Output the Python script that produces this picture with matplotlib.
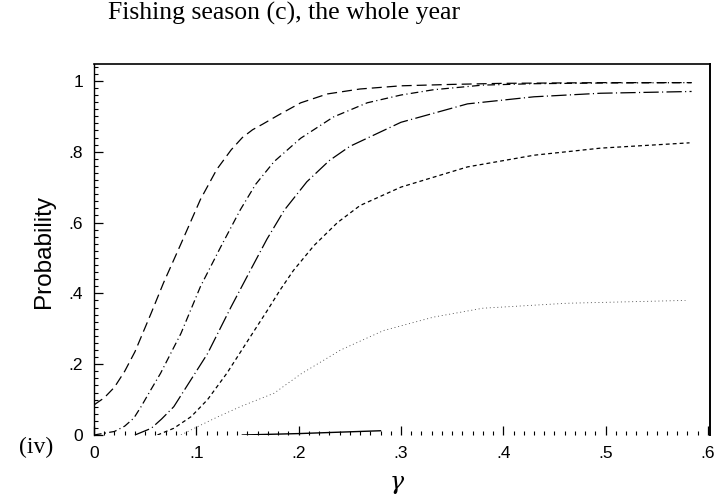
import matplotlib
matplotlib.use("Agg")
import matplotlib.pyplot as plt
from matplotlib.ticker import MultipleLocator, FuncFormatter

plt.rcParams['lines.scale_dashes'] = False

# ---- data ----
x1 = [0, 0.01, 0.02, 0.03, 0.04, 0.056, 0.068, 0.085, 0.104, 0.12, 0.134, 0.145, 0.155, 0.165, 0.18, 0.202, 0.228, 0.26, 0.3, 0.35, 0.4, 0.45, 0.5, 0.55, 0.584]
y1 = [0.085, 0.105, 0.135, 0.18, 0.235, 0.345, 0.43, 0.54, 0.665, 0.75, 0.805, 0.84, 0.862, 0.878, 0.903, 0.938, 0.963, 0.977, 0.986, 0.99, 0.993, 0.994, 0.995, 0.995, 0.995]

x2 = [0, 0.02, 0.03, 0.039, 0.046, 0.055, 0.065, 0.085, 0.104, 0.124, 0.143, 0.158, 0.176, 0.202, 0.234, 0.267, 0.3, 0.332, 0.38, 0.43, 0.5, 0.584]
y2 = [0.0, 0.01, 0.025, 0.048, 0.08, 0.125, 0.174, 0.287, 0.419, 0.532, 0.636, 0.708, 0.772, 0.838, 0.898, 0.938, 0.96, 0.975, 0.988, 0.992, 0.994, 0.995]

x3 = [0.04, 0.056, 0.066, 0.078, 0.111, 0.134, 0.153, 0.169, 0.186, 0.208, 0.23, 0.25, 0.3, 0.365, 0.43, 0.495, 0.584]
y3 = [0.0, 0.019, 0.045, 0.08, 0.23, 0.362, 0.466, 0.553, 0.635, 0.715, 0.775, 0.815, 0.883, 0.935, 0.955, 0.965, 0.97]

x4 = [0.062, 0.078, 0.095, 0.111, 0.13, 0.15, 0.169, 0.182, 0.195, 0.215, 0.238, 0.26, 0.3, 0.365, 0.43, 0.495, 0.582]
y4 = [0.0, 0.019, 0.052, 0.10, 0.175, 0.265, 0.35, 0.41, 0.465, 0.535, 0.60, 0.648, 0.70, 0.757, 0.79, 0.81, 0.825]

x5 = [0.085, 0.098, 0.12, 0.143, 0.176, 0.202, 0.241, 0.283, 0.332, 0.38, 0.462, 0.578]
y5 = [0.0, 0.019, 0.05, 0.08, 0.118, 0.172, 0.24, 0.295, 0.333, 0.358, 0.372, 0.38]

x6 = [0.145, 0.2, 0.25, 0.28]
y6 = [0.0, 0.004, 0.009, 0.012]

xticks = [0, 0.1, 0.2, 0.3, 0.4, 0.5, 0.6]
yticks = [0, 0.2, 0.4, 0.6, 0.8, 1.0]

title = "Fishing season (c), the whole year"
ylabel = "Probability"
xlabel = "γ"
panel = "(iv)"

# ---- figure ----
fig = plt.figure(figsize=(7.23, 4.95), dpi=100)
ax = fig.add_axes([94/723, 1-435/495, (710-94)/723, (435-63.5)/495])

lw = 0.9
ax.plot(x1, y1, color='black', lw=lw, dashes=(7.2, 3.6))
ax.plot(x2, y2, color='black', lw=lw, dashes=(5.5, 2.4, 0.8, 2.4))
ax.plot(x3, y3, color='black', lw=lw, dashes=(11.0, 2.4, 0.8, 2.4))
ax.plot(x4, y4, color='black', lw=lw, dashes=(2.8, 2.2))
ax.plot(x5, y5, color='#444444', lw=0.6, dashes=(0.7, 2.0))
ax.plot(x6, y6, color='black', lw=1.0)

ax.set_xlim(0, 0.602)
ax.set_ylim(0, 1.049)

ax.set_xticks(xticks)
ax.set_yticks(yticks)
ax.xaxis.set_minor_locator(MultipleLocator(0.01))
ax.yaxis.set_minor_locator(MultipleLocator(0.02))

def fmt(v, pos):
    if abs(v) < 1e-9:
        return "0"
    if abs(v - 1) < 1e-9:
        return "1"
    return ("%.1f" % v).lstrip("0")

ax.xaxis.set_major_formatter(FuncFormatter(fmt))
ax.yaxis.set_major_formatter(FuncFormatter(fmt))

ax.tick_params(which='both', direction='in', top=False, right=False, color='black')
ax.tick_params(which='major', length=6.5, width=0.9, pad=8, labelsize=12.5)
ax.tick_params(which='minor', length=3, width=0.8)
for lab in ax.get_xticklabels() + ax.get_yticklabels():
    lab.set_family('Liberation Sans')

ax.spines['bottom'].set_visible(False)
ax.spines['left'].set_linewidth(1.0)
ax.spines['top'].set_linewidth(1.2)
ax.spines['right'].set_linewidth(1.4)

fig.text(108/723, 1-20/495, title, family='Liberation Serif', fontsize=18.5,
         ha='left', va='baseline')
fig.text(44/723, 1-251/495, ylabel, family='Liberation Sans', fontsize=17.5,
         rotation=90, ha='center', va='center')
fig.text(53/723, 1-447/495, panel, family='Liberation Serif', fontsize=17,
         ha='right', va='center')
fig.text(397/723, 1-482/495, xlabel, family='DejaVu Serif', fontsize=17,
         style='italic', ha='center', va='center')

fig.savefig("out.png", dpi=100)
